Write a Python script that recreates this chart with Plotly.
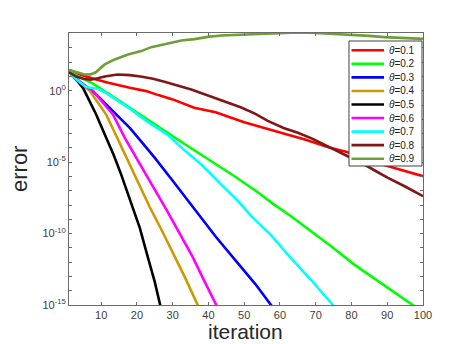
import plotly.graph_objects as go

# ---- data: iteration and log10(error) ----
x_t01 = [1, 4, 8.6, 12, 18, 22.6, 26, 30, 36, 42, 50, 57.5, 62, 67, 74, 79, 85, 92, 100]
l_t01 = [1.47, 1.15, 0.79, 0.56, 0.21, -0.02, -0.3, -0.6, -1.19, -1.5, -2.2, -2.71, -3.06, -3.41, -3.99, -4.3, -4.9, -5.4, -5.98]

x_t02 = [1, 4, 7.7, 12, 18, 24, 28.7, 34.3, 40.8, 47.3, 53.8, 58, 63.1, 68, 74.3, 80.8, 85, 90.2, 97.1, 100]
l_t02 = [1.35, 0.95, 0.5, -0.2, -1.2, -2.2, -2.94, -3.88, -4.93, -5.98, -7.1, -7.9, -8.78, -9.7, -10.88, -12.17, -12.9, -13.8, -15.0, -15.5]

x_t03 = [1, 4, 8.6, 13.3, 18, 21.7, 25, 30, 34, 38, 42, 48.2, 53, 57.5, 60]
l_t03 = [1.3, 0.65, -0.26, -1.42, -2.59, -3.7, -4.7, -6.3, -7.6, -8.9, -10.2, -12.07, -13.5, -15.0, -15.8]

x_t04 = [1, 4, 6.8, 11.4, 14.5, 19, 23.5, 27, 30, 33.5, 37, 38]
l_t04 = [1.3, 0.55, 0.0, -1.66, -3.3, -5.7, -8.1, -9.8, -11.3, -13.1, -15.0, -15.5]

x_t05 = [1, 3, 4.9, 8.6, 11.4, 13.5, 15.6, 18.9, 20.8, 23.1, 25, 26.5, 27]
l_t05 = [1.3, 0.8, 0.21, -1.66, -3.29, -4.5, -5.87, -8.2, -9.6, -11.7, -13.4, -15.0, -15.5]

x_t06 = [1, 4, 7.7, 13.3, 16.6, 20, 24, 28.2, 32, 35.5, 39, 42.2, 43]
l_t06 = [1.3, 0.6, 0.0, -1.66, -3.29, -4.8, -6.5, -8.3, -10.0, -11.6, -13.4, -15.0, -15.4]

x_t07 = [1, 3.5, 5.5, 7, 9, 11, 13.3, 18, 22.6, 28.7, 33, 38, 44.5, 48.2, 52, 57.5, 62.2, 68.7, 74.8, 76]
l_t07 = [1.25, 0.75, 0.3, 0.22, 0.15, -0.1, -0.49, -1.25, -2.1, -3.1, -4.1, -5.16, -6.8, -7.7, -8.78, -10.1, -11.47, -13.25, -15.0, -15.4]

x_t08 = [1, 3, 5, 7, 9, 11, 14.5, 18, 21, 24.5, 27.7, 31, 35.2, 38.5, 41.7, 45, 49, 53, 56.6, 61, 65, 69, 73.4, 78, 83.6, 87, 90.2, 95, 100]
l_t08 = [1.3, 1.0, 0.85, 0.78, 0.88, 1.0, 1.14, 1.1, 1.0, 0.85, 0.63, 0.4, 0.09, -0.2, -0.49, -0.75, -1.15, -1.6, -2.1, -2.6, -2.94, -3.35, -3.88, -4.45, -5.16, -5.65, -6.1, -6.7, -7.38]

x_t09 = [1, 3, 5.4, 7, 8.5, 11, 13.8, 17.5, 21.2, 24, 28.7, 32.4, 36.1, 39.8, 43.6, 48.2, 54, 60, 65, 70, 75, 80, 85, 89.2, 95, 100]
l_t09 = [1.45, 1.3, 1.14, 1.15, 1.3, 1.85, 2.2, 2.55, 2.78, 3.06, 3.3, 3.53, 3.62, 3.78, 3.88, 3.92, 4.02, 4.06, 4.08, 4.05, 4.0, 3.95, 3.85, 3.76, 3.7, 3.64]

names = ["0.1", "0.2", "0.3", "0.4", "0.5", "0.6", "0.7", "0.8", "0.9"]
xs = [x_t01, x_t02, x_t03, x_t04, x_t05, x_t06, x_t07, x_t08, x_t09]
ls = [l_t01, l_t02, l_t03, l_t04, l_t05, l_t06, l_t07, l_t08, l_t09]
colors = ["#FF0000", "#00FF00", "#0000FF", "#CC9900", "#000000",
          "#FF00FF", "#00FFFF", "#7F1717", "#6E9E36"]

x_ticks = [10, 20, 30, 40, 50, 60, 70, 80, 90, 100]
y_major = [-15, -10, -5, 0]
y_major_text = ["10<sup>-15</sup>", "10<sup>-10</sup>", "10<sup>-5</sup>", "10<sup>0</sup>"]
y_minor = [d for d in range(-15, 5) if d not in y_major]

# ---- figure ----
W, H = 459, 344
L, R, T, B = 61, 415, 25, 297

fig = go.Figure()
for name, x, l, c in zip(names, xs, ls, colors):
    fig.add_trace(go.Scatter(
        x=x, y=[10 ** v for v in l], mode="lines", name="θ=" + name,
        line=dict(color=c, width=2.6), showlegend=False))

axis_col = "#6b6b6b"
fig.update_xaxes(
    range=[1, 100], tickvals=x_ticks, ticktext=[str(v) for v in x_ticks],
    ticks="inside", ticklen=3, tickcolor=axis_col, showline=True, linecolor=axis_col,
    linewidth=1, mirror="allticks", showgrid=False, zeroline=False,
    tickfont=dict(family="Liberation Sans", size=11, color="#404040"))
fig.update_yaxes(
    type="log", range=[-15, 4.05],
    tickvals=[10 ** d for d in y_major], ticktext=y_major_text,
    ticks="inside", ticklen=3, tickcolor=axis_col, showline=True, linecolor=axis_col,
    linewidth=1, mirror="allticks", showgrid=False, zeroline=False,
    minor=dict(tickmode="array", tickvals=[10 ** d for d in y_minor],
               ticks="inside", ticklen=3, tickcolor=axis_col, showgrid=False),
    tickfont=dict(family="Liberation Sans", size=11, color="#404040"))

def px_x(px):
    return (px - L) / (R - L)

def px_y(py):
    return (B - py) / (B - T)

shapes = []
annotations = []
# legend box (drawn manually to match compact MATLAB legend)
shapes.append(dict(type="rect", xref="paper", yref="paper",
                   x0=px_x(341), x1=px_x(414), y0=px_y(158), y1=px_y(33),
                   line=dict(color="#404040", width=1), fillcolor="white", layer="above"))
row0, dy = 42.3, 13.55
for i, (name, c) in enumerate(zip(names, colors)):
    yy = px_y(row0 + i * dy)
    shapes.append(dict(type="line", xref="paper", yref="paper",
                       x0=px_x(343.5), x1=px_x(376), y0=yy, y1=yy,
                       line=dict(color=c, width=2.6), layer="above"))
    annotations.append(dict(xref="paper", yref="paper", x=px_x(378.5), y=yy,
                            xanchor="left", yanchor="middle", showarrow=False,
                            text="<i>θ</i>=" + name,
                            font=dict(family="Liberation Sans", size=10, color="#202020")))

annotations.append(dict(xref="paper", yref="paper", x=px_x(237), y=px_y(323),
                        xanchor="center", yanchor="middle", showarrow=False,
                        text="iteration",
                        font=dict(family="Liberation Sans", size=21, color="#262626")))
annotations.append(dict(xref="paper", yref="paper", x=px_x(11), y=px_y(161),
                        xanchor="center", yanchor="middle", showarrow=False,
                        text="error", textangle=-90,
                        font=dict(family="Liberation Sans", size=22, color="#262626")))

fig.update_layout(
    width=W, height=H,
    margin=dict(l=L, r=W - R, t=T, b=H - B),
    paper_bgcolor="white", plot_bgcolor="white",
    shapes=shapes, annotations=annotations, showlegend=False)

fig.write_html("out.html")
